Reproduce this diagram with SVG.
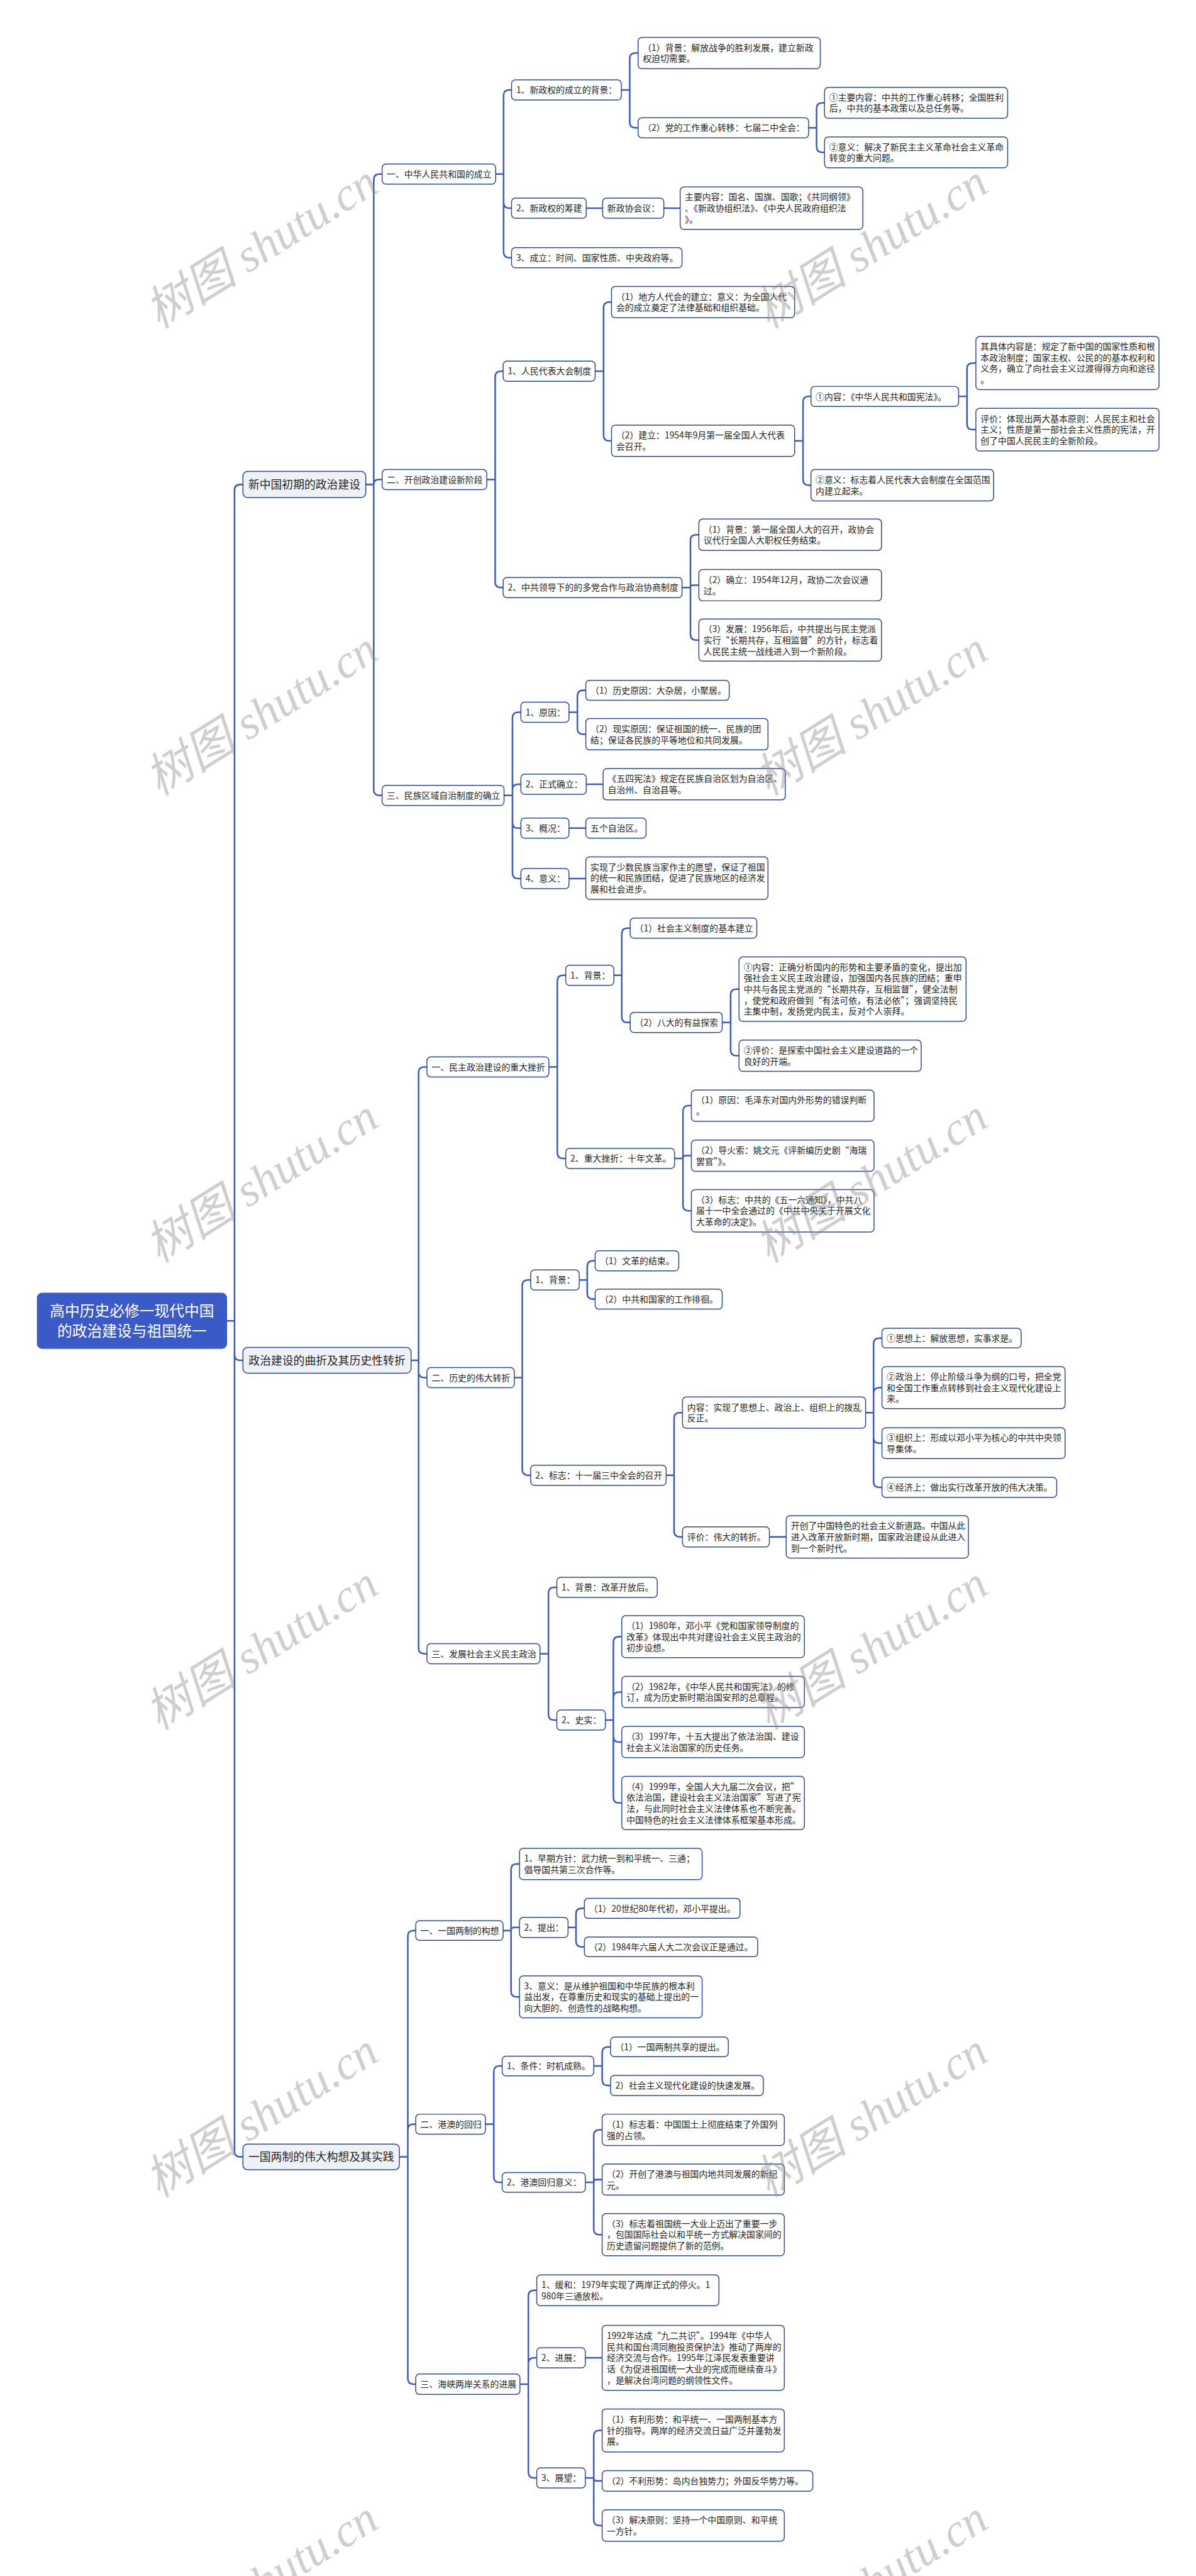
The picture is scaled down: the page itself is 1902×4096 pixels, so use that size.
<svg xmlns="http://www.w3.org/2000/svg" width="1902" height="4096" viewBox="0 0 1902 4096">
<style>
.b{fill:#fff;stroke:#2d4a9c;stroke-width:2}
.l1{fill:#eef1f6;stroke:#2d4a9c;stroke-width:2}
.rt{fill:#3a5bc7;stroke:#3a5bc7;stroke-width:2}
.t{font-family:"Noto Sans CJK SC","Noto Sans",sans-serif;font-size:18.7px;fill:#262626}
.t1{font-family:"Noto Sans CJK SC","Noto Sans",sans-serif;font-size:24px;fill:#262626;text-anchor:middle}
.t0{font-family:"Noto Sans CJK SC","Noto Sans",sans-serif;font-size:32px;fill:#fff;text-anchor:middle}
.c{fill:none;stroke:#3a5bc5;stroke-width:3.4}
.wm{font-family:"Liberation Serif","Noto Sans CJK SC",serif;font-style:italic;font-size:100px;fill:#8a8a8a;opacity:.42}
</style>
<rect width="1902" height="4096" fill="#fff"/>
<g transform="scale(0.7429)">
<g id="connectors" class="c">
<path d="M485,2827H502V1049Q502,1037 514,1037H520M485,2827H502V2899.5Q502,2911.5 514,2911.5H520M485,2827H502V4604.5Q502,4616.5 514,4616.5H520"/>
<path d="M783,1037H800V384.5Q800,372.5 812,372.5H818M783,1037H800Q800,1026.5 810.5,1026.5H818M783,1037H800V1690.5Q800,1702.5 812,1702.5H818"/>
<path d="M880,2911.5H896V2295.5Q896,2283.5 908,2283.5H914M880,2911.5H896V2936.5Q896,2948.5 908,2948.5H914M880,2911.5H896V3527.5Q896,3539.5 908,3539.5H914"/>
<path d="M855,4616.5H873V4144Q873,4132 885,4132H890M855,4616.5H873V4558.5Q873,4546.5 885,4546.5H890M855,4616.5H873V5091Q873,5103 885,5103H890"/>
<path d="M1061,372.5H1078V204.5Q1078,192.5 1090,192.5H1095M1061,372.5H1078V433.5Q1078,445.5 1090,445.5H1095M1061,372.5H1078V539.5Q1078,551.5 1090,551.5H1095"/>
<path d="M1330,192.5H1348V125.5Q1348,113.5 1360,113.5H1366M1330,192.5H1348V261.5Q1348,273.5 1360,273.5H1366"/>
<path d="M1731,273.5H1748V232Q1748,220 1760,220H1765M1731,273.5H1748V314Q1748,326 1760,326H1765"/>
<path d="M1255,445.5H1290M1421,445.5H1456"/>
<path d="M1042,1026.5H1060V806.5Q1060,794.5 1072,794.5H1077M1042,1026.5H1060V1245.5Q1060,1257.5 1072,1257.5H1077"/>
<path d="M1274,794.5H1292V658.5Q1292,646.5 1304,646.5H1309M1274,794.5H1292V931.5Q1292,943.5 1304,943.5H1309"/>
<path d="M1701,943.5H1719V860.5Q1719,848.5 1731,848.5H1736M1701,943.5H1719V1026.5Q1719,1038.5 1731,1038.5H1736"/>
<path d="M2052,848.5H2070V789Q2070,777 2082,777H2089M2052,848.5H2070V907.5Q2070,919.5 2082,919.5H2089"/>
<path d="M1460,1257.5H1478V1156.5Q1478,1144.5 1490,1144.5H1496M1460,1257.5H1478Q1478,1252.5 1483,1252.5H1496M1460,1257.5H1478V1358Q1478,1370 1490,1370H1496"/>
<path d="M1079,1702.5H1097V1536.5Q1097,1524.5 1109,1524.5H1115M1079,1702.5H1097V1690.5Q1097,1678.5 1109,1678.5H1115M1079,1702.5H1097V1760.5Q1097,1772.5 1109,1772.5H1115M1079,1702.5H1097V1868.5Q1097,1880.5 1109,1880.5H1115"/>
<path d="M1218,1524.5H1236V1489.5Q1236,1477.5 1248,1477.5H1254M1218,1524.5H1236V1559.5Q1236,1571.5 1248,1571.5H1254"/>
<path d="M1255,1678.5H1291M1218,1772.5H1254M1218,1880.5H1254"/>
<path d="M1175,2283.5H1193V2099.5Q1193,2087.5 1205,2087.5H1211M1175,2283.5H1193V2467.5Q1193,2479.5 1205,2479.5H1211"/>
<path d="M1314,2087.5H1331V1998.5Q1331,1986.5 1343,1986.5H1349M1314,2087.5H1331V2176.5Q1331,2188.5 1343,2188.5H1349"/>
<path d="M1546,2188.5H1564V2129Q1564,2117 1576,2117H1582M1546,2188.5H1564V2247.5Q1564,2259.5 1576,2259.5H1582"/>
<path d="M1444,2479.5H1462V2378.5Q1462,2366.5 1474,2366.5H1480M1444,2479.5H1462Q1462,2473.5 1468,2473.5H1480M1444,2479.5H1462V2579.5Q1462,2591.5 1474,2591.5H1480"/>
<path d="M1101,2948.5H1118V2751.5Q1118,2739.5 1130,2739.5H1136M1101,2948.5H1118V3145.5Q1118,3157.5 1130,3157.5H1136"/>
<path d="M1240,2739.5H1257V2710.5Q1257,2698.5 1269,2698.5H1274M1240,2739.5H1257V2768.5Q1257,2780.5 1269,2780.5H1274"/>
<path d="M1426,3157.5H1443V3035.5Q1443,3023.5 1455,3023.5H1461M1426,3157.5H1443V3277.5Q1443,3289.5 1455,3289.5H1461"/>
<path d="M1853,3023.5H1870V2876Q1870,2864 1882,2864H1888M1853,3023.5H1870V2982Q1870,2970 1882,2970H1888M1853,3023.5H1870V3077Q1870,3089 1882,3089H1888M1853,3023.5H1870V3171.5Q1870,3183.5 1882,3183.5H1888"/>
<path d="M1647,3289.5H1683"/>
<path d="M1156,3539.5H1174V3409.5Q1174,3397.5 1186,3397.5H1192M1156,3539.5H1174V3669.5Q1174,3681.5 1186,3681.5H1192"/>
<path d="M1296,3681.5H1313V3515Q1313,3503 1325,3503H1331M1296,3681.5H1313V3633.5Q1313,3621.5 1325,3621.5H1331M1296,3681.5H1313V3716.5Q1313,3728.5 1325,3728.5H1331M1296,3681.5H1313V3847Q1313,3859 1325,3859H1331"/>
<path d="M1077,4132H1094V4001.5Q1094,3989.5 1106,3989.5H1112M1077,4132H1094Q1094,4125.5 1100.5,4125.5H1112M1077,4132H1094V4262Q1094,4274 1106,4274H1112"/>
<path d="M1216,4125.5H1233V4096.5Q1233,4084.5 1245,4084.5H1251M1216,4125.5H1233V4155Q1233,4167 1245,4167H1251"/>
<path d="M1039,4546.5H1057V4434Q1057,4422 1069,4422H1075M1039,4546.5H1057V4659Q1057,4671 1069,4671H1075"/>
<path d="M1271,4422H1289V4393Q1289,4381 1301,4381H1307M1271,4422H1289V4451.5Q1289,4463.5 1301,4463.5H1307"/>
<path d="M1253,4671H1271V4570.5Q1271,4558.5 1283,4558.5H1289M1253,4671H1271Q1271,4665 1277,4665H1289M1253,4671H1271V4771Q1271,4783 1283,4783H1289"/>
<path d="M1113,5103H1131V4914Q1131,4902 1143,4902H1149M1113,5103H1131V5058.5Q1131,5046.5 1143,5046.5H1149M1113,5103H1131V5291.5Q1131,5303.5 1143,5303.5H1149"/>
<path d="M1253,5046.5H1289"/>
<path d="M1253,5303.5H1271V5214Q1271,5202 1283,5202H1289M1253,5303.5H1271Q1271,5310 1277.5,5310H1289M1253,5303.5H1271V5393.5Q1271,5405.5 1283,5405.5H1289"/>
</g>

<g id="root"><rect class="rt" x="80" y="2768" width="405" height="118" rx="10"/><text class="t0"><tspan x="282.5" y="2818">高中历史必修一现代中国</tspan><tspan x="282.5" y="2860">的政治建设与祖国统一</tspan></text></g>

<g id="l1a"><rect class="l1" x="520" y="1009" width="263" height="56" rx="10"/><text class="t1" x="651.5" y="1046">新中国初期的政治建设</text></g>
<g id="l1b"><rect class="l1" x="520" y="2884" width="360" height="55" rx="10"/><text class="t1" x="700" y="2920.5">政治建设的曲折及其历史性转折</text></g>
<g id="l1c"><rect class="l1" x="520" y="4589" width="335" height="55" rx="10"/><text class="t1" x="687.5" y="4625.5">一国两制的伟大构想及其实践</text></g>

<g id="a1"><rect class="b" x="818" y="351" width="243" height="43" rx="8"/><text class="t" x="828" y="379.5">一、中华人民共和国的成立</text></g>
<g id="a1a"><rect class="b" x="1095" y="171" width="235" height="43" rx="8"/><text class="t" x="1105" y="199.5">1、新政权的成立的背景：</text></g>
<g id="a1a1"><rect class="b" x="1366" y="80" width="390" height="67" rx="8"/><text class="t"><tspan x="1376" y="108.6">（1）背景：解放战争的胜利发展，建立新政</tspan><tspan x="1376" y="132.4">权迫切需要。</tspan></text></g>
<g id="a1a2"><rect class="b" x="1366" y="252" width="365" height="43" rx="8"/><text class="t" x="1376" y="280.5">（2）党的工作重心转移：七届二中全会：</text></g>
<g id="a1a2a"><rect class="b" x="1765" y="187" width="392" height="66" rx="8"/><text class="t"><tspan x="1775" y="215.1">①主要内容：中共的工作重心转移；全国胜利</tspan><tspan x="1775" y="238.9">后，中共的基本政策以及总任务等。</tspan></text></g>
<g id="a1a2b"><rect class="b" x="1765" y="293" width="392" height="66" rx="8"/><text class="t"><tspan x="1775" y="321.1">②意义：解决了新民主主义革命社会主义革命</tspan><tspan x="1775" y="344.9">转变的重大问题。</tspan></text></g>
<g id="a1b"><rect class="b" x="1095" y="424" width="160" height="43" rx="8"/><text class="t" x="1105" y="452.5">2、新政权的筹建</text></g>
<g id="a1b1"><rect class="b" x="1290" y="424" width="131" height="43" rx="8"/><text class="t" x="1300" y="452.5">新政协会议：</text></g>
<g id="a1b1a"><rect class="b" x="1456" y="400" width="391" height="91" rx="8"/><text class="t"><tspan x="1466" y="428.7">主要内容：国名、国旗、国歌；《共同纲领》</tspan><tspan x="1466" y="452.5">、《新政协组织法》、《中央人民政府组织法</tspan><tspan x="1466" y="476.3">》。</tspan></text></g>
<g id="a1c"><rect class="b" x="1095" y="530" width="365" height="43" rx="8"/><text class="t" x="1105" y="558.5">3、成立：时间、国家性质、中央政府等。</text></g>

<g id="a2"><rect class="b" x="818" y="1005" width="224" height="43" rx="8"/><text class="t" x="828" y="1033.5">二、开创政治建设新阶段</text></g>
<g id="a2a"><rect class="b" x="1077" y="773" width="197" height="43" rx="8"/><text class="t" x="1087" y="801.5">1、人民代表大会制度</text></g>
<g id="a2a1"><rect class="b" x="1309" y="613" width="392" height="67" rx="8"/><text class="t"><tspan x="1319" y="641.6">（1）地方人代会的建立：意义：为全国人代</tspan><tspan x="1319" y="665.4">会的成立奠定了法律基础和组织基础。</tspan></text></g>
<g id="a2a2"><rect class="b" x="1309" y="910" width="392" height="67" rx="8"/><text class="t"><tspan x="1319" y="938.6">（2）建立：1954年9月第一届全国人大代表</tspan><tspan x="1319" y="962.4">会召开。</tspan></text></g>
<g id="a2a2a"><rect class="b" x="1736" y="827" width="316" height="43" rx="8"/><text class="t" x="1746" y="855.5">①内容：《中华人民共和国宪法》。</text></g>
<g id="a2a2a1"><rect class="b" x="2089" y="720" width="392" height="114" rx="8"/><text class="t"><tspan x="2099" y="748.3">其具体内容是：规定了新中国的国家性质和根</tspan><tspan x="2099" y="772.1">本政治制度；国家主权、公民的的基本权利和</tspan><tspan x="2099" y="795.9">义务，确立了向社会主义过渡得得方向和途径</tspan><tspan x="2099" y="819.7">。</tspan></text></g>
<g id="a2a2a2"><rect class="b" x="2089" y="874" width="392" height="91" rx="8"/><text class="t"><tspan x="2099" y="902.7">评价：体现出两大基本原则：人民民主和社会</tspan><tspan x="2099" y="926.5">主义；性质是第一部社会主义性质的宪法，开</tspan><tspan x="2099" y="950.3">创了中国人民民主的全新阶段。</tspan></text></g>
<g id="a2a2b"><rect class="b" x="1736" y="1005" width="391" height="67" rx="8"/><text class="t"><tspan x="1746" y="1033.6">②意义：标志着人民代表大会制度在全国范围</tspan><tspan x="1746" y="1057.4">内建立起来。</tspan></text></g>
<g id="a2b"><rect class="b" x="1077" y="1236" width="383" height="43" rx="8"/><text class="t" x="1087" y="1264.5">2、中共领导下的的多党合作与政治协商制度</text></g>
<g id="a2b1"><rect class="b" x="1496" y="1111" width="391" height="67" rx="8"/><text class="t"><tspan x="1506" y="1139.6">（1）背景：第一届全国人大的召开，政协会</tspan><tspan x="1506" y="1163.4">议代行全国人大职权任务结束。</tspan></text></g>
<g id="a2b2"><rect class="b" x="1496" y="1219" width="391" height="67" rx="8"/><text class="t"><tspan x="1506" y="1247.6">（2）确立：1954年12月，政协二次会议通</tspan><tspan x="1506" y="1271.4">过。</tspan></text></g>
<g id="a2b3"><rect class="b" x="1496" y="1325" width="391" height="90" rx="8"/><text class="t"><tspan x="1506" y="1353.2">（3）发展：1956年后，中共提出与民主党派</tspan><tspan x="1506" y="1377">实行“长期共存，互相监督”的方针，标志着</tspan><tspan x="1506" y="1400.8">人民民主统一战线进入到一个新阶段。</tspan></text></g>

<g id="a3"><rect class="b" x="818" y="1681" width="261" height="43" rx="8"/><text class="t" x="828" y="1709.5">三、民族区域自治制度的确立</text></g>
<g id="a3a"><rect class="b" x="1115" y="1503" width="103" height="43" rx="8"/><text class="t" x="1125" y="1531.5">1、原因：</text></g>
<g id="a3a1"><rect class="b" x="1254" y="1456" width="307" height="43" rx="8"/><text class="t" x="1264" y="1484.5">（1）历史原因：大杂居，小聚居。</text></g>
<g id="a3a2"><rect class="b" x="1254" y="1538" width="390" height="67" rx="8"/><text class="t"><tspan x="1264" y="1566.6">（2）现实原因：保证祖国的统一、民族的团</tspan><tspan x="1264" y="1590.4">结；保证各民族的平等地位和共同发展。</tspan></text></g>
<g id="a3b"><rect class="b" x="1115" y="1657" width="140" height="43" rx="8"/><text class="t" x="1125" y="1685.5">2、正式确立：</text></g>
<g id="a3b1"><rect class="b" x="1291" y="1645" width="390" height="67" rx="8"/><text class="t"><tspan x="1301" y="1673.6">《五四宪法》规定在民族自治区划为自治区、</tspan><tspan x="1301" y="1697.4">自治州、自治县等。</tspan></text></g>
<g id="a3c"><rect class="b" x="1115" y="1751" width="103" height="43" rx="8"/><text class="t" x="1125" y="1779.5">3、概况：</text></g>
<g id="a3c1"><rect class="b" x="1254" y="1751" width="129" height="43" rx="8"/><text class="t" x="1264" y="1779.5">五个自治区。</text></g>
<g id="a3d"><rect class="b" x="1115" y="1859" width="103" height="43" rx="8"/><text class="t" x="1125" y="1887.5">4、意义：</text></g>
<g id="a3d1"><rect class="b" x="1254" y="1834" width="390" height="91" rx="8"/><text class="t"><tspan x="1264" y="1862.7">实现了少数民族当家作主的愿望，保证了祖国</tspan><tspan x="1264" y="1886.5">的统一和民族团结，促进了民族地区的经济发</tspan><tspan x="1264" y="1910.3">展和社会进步。</tspan></text></g>

<g id="b1"><rect class="b" x="914" y="2262" width="261" height="43" rx="8"/><text class="t" x="924" y="2290.5">一、民主政治建设的重大挫折</text></g>
<g id="b1a"><rect class="b" x="1211" y="2066" width="103" height="43" rx="8"/><text class="t" x="1221" y="2094.5">1、背景：</text></g>
<g id="b1a1"><rect class="b" x="1349" y="1965" width="271" height="43" rx="8"/><text class="t" x="1359" y="1993.5">（1）社会主义制度的基本建立</text></g>
<g id="b1a2"><rect class="b" x="1349" y="2167" width="197" height="43" rx="8"/><text class="t" x="1359" y="2195.5">（2）八大的有益探索</text></g>
<g id="b1a2a"><rect class="b" x="1582" y="2048" width="486" height="138" rx="8"/><text class="t"><tspan x="1592" y="2076.4">①内容：正确分析国内的形势和主要矛盾的变化，提出加</tspan><tspan x="1592" y="2100.2">强社会主义民主政治建设，加强国内各民族的团结；重申</tspan><tspan x="1592" y="2124">中共与各民主党派的“长期共存，互相监督”，健全法制</tspan><tspan x="1592" y="2147.8">，使党和政府做到“有法可依，有法必依”；强调坚持民</tspan><tspan x="1592" y="2171.6">主集中制，发扬党内民主，反对个人崇拜。</tspan></text></g>
<g id="b1a2b"><rect class="b" x="1582" y="2226" width="390" height="67" rx="8"/><text class="t"><tspan x="1592" y="2254.6">②评价：是探索中国社会主义建设道路的一个</tspan><tspan x="1592" y="2278.4">良好的开端。</tspan></text></g>
<g id="b1b"><rect class="b" x="1211" y="2458" width="233" height="43" rx="8"/><text class="t" x="1221" y="2486.5">2、重大挫折：十年文革。</text></g>
<g id="b1b1"><rect class="b" x="1480" y="2333" width="391" height="67" rx="8"/><text class="t"><tspan x="1490" y="2361.6">（1）原因：毛泽东对国内外形势的错误判断</tspan><tspan x="1490" y="2385.4">。</tspan></text></g>
<g id="b1b2"><rect class="b" x="1480" y="2440" width="391" height="67" rx="8"/><text class="t"><tspan x="1490" y="2468.6">（2）导火索：姚文元《评新编历史剧“海瑞</tspan><tspan x="1490" y="2492.4">罢官”》。</tspan></text></g>
<g id="b1b3"><rect class="b" x="1480" y="2546" width="391" height="91" rx="8"/><text class="t"><tspan x="1490" y="2574.7">（3）标志：中共的《五一六通知》，中共八</tspan><tspan x="1490" y="2598.5">届十一中全会通过的《中共中央关于开展文化</tspan><tspan x="1490" y="2622.3">大革命的决定》。</tspan></text></g>

<g id="b2"><rect class="b" x="914" y="2927" width="187" height="43" rx="8"/><text class="t" x="924" y="2955.5">二、历史的伟大转折</text></g>
<g id="b2a"><rect class="b" x="1136" y="2718" width="104" height="43" rx="8"/><text class="t" x="1146" y="2746.5">1、背景：</text></g>
<g id="b2a1"><rect class="b" x="1274" y="2677" width="179" height="43" rx="8"/><text class="t" x="1284" y="2705.5">（1）文革的结束。</text></g>
<g id="b2a2"><rect class="b" x="1274" y="2759" width="272" height="43" rx="8"/><text class="t" x="1284" y="2787.5">（2）中共和国家的工作徘徊。</text></g>
<g id="b2b"><rect class="b" x="1136" y="3136" width="290" height="43" rx="8"/><text class="t" x="1146" y="3164.5">2、标志：十一届三中全会的召开</text></g>
<g id="b2b1"><rect class="b" x="1461" y="2990" width="392" height="67" rx="8"/><text class="t"><tspan x="1471" y="3018.6">内容：实现了思想上、政治上、组织上的拨乱</tspan><tspan x="1471" y="3042.4">反正。</tspan></text></g>
<g id="b2b1a"><rect class="b" x="1888" y="2843" width="298" height="42" rx="8"/><text class="t" x="1898" y="2871">①思想上：解放思想，实事求是。</text></g>
<g id="b2b1b"><rect class="b" x="1888" y="2925" width="392" height="90" rx="8"/><text class="t"><tspan x="1898" y="2953.2">②政治上：停止阶级斗争为纲的口号，把全党</tspan><tspan x="1898" y="2977">和全国工作重点转移到社会主义现代化建设上</tspan><tspan x="1898" y="3000.8">来。</tspan></text></g>
<g id="b2b1c"><rect class="b" x="1888" y="3056" width="392" height="66" rx="8"/><text class="t"><tspan x="1898" y="3084.1">③组织上：形成以邓小平为核心的中共中央领</tspan><tspan x="1898" y="3107.9">导集体。</tspan></text></g>
<g id="b2b1d"><rect class="b" x="1888" y="3162" width="374" height="43" rx="8"/><text class="t" x="1898" y="3190.5">④经济上：做出实行改革开放的伟大决策。</text></g>
<g id="b2b2"><rect class="b" x="1461" y="3268" width="186" height="43" rx="8"/><text class="t" x="1471" y="3296.5">评价：伟大的转折。</text></g>
<g id="b2b2a"><rect class="b" x="1683" y="3244" width="390" height="91" rx="8"/><text class="t"><tspan x="1693" y="3272.7">开创了中国特色的社会主义新道路。中国从此</tspan><tspan x="1693" y="3296.5">进入改革开放新时期，国家政治建设从此进入</tspan><tspan x="1693" y="3320.3">到一个新时代。</tspan></text></g>

<g id="b3"><rect class="b" x="914" y="3518" width="242" height="43" rx="8"/><text class="t" x="924" y="3546.5">三、发展社会主义民主政治</text></g>
<g id="b3a"><rect class="b" x="1192" y="3376" width="215" height="43" rx="8"/><text class="t" x="1202" y="3404.5">1、背景：改革开放后。</text></g>
<g id="b3b"><rect class="b" x="1192" y="3660" width="104" height="43" rx="8"/><text class="t" x="1202" y="3688.5">2、史实：</text></g>
<g id="b3b1"><rect class="b" x="1331" y="3458" width="391" height="90" rx="8"/><text class="t"><tspan x="1341" y="3486.2">（1）1980年，邓小平《党和国家领导制度的</tspan><tspan x="1341" y="3510">改革》体现出中共对建设社会主义民主政治的</tspan><tspan x="1341" y="3533.8">初步设想。</tspan></text></g>
<g id="b3b2"><rect class="b" x="1331" y="3588" width="391" height="67" rx="8"/><text class="t"><tspan x="1341" y="3616.6">（2）1982年，《中华人民共和国宪法》的修</tspan><tspan x="1341" y="3640.4">订，成为历史新时期治国安邦的总章程。</tspan></text></g>
<g id="b3b3"><rect class="b" x="1331" y="3695" width="391" height="67" rx="8"/><text class="t"><tspan x="1341" y="3723.6">（3）1997年，十五大提出了依法治国、建设</tspan><tspan x="1341" y="3747.4">社会主义法治国家的历史任务。</tspan></text></g>
<g id="b3b4"><rect class="b" x="1331" y="3802" width="391" height="114" rx="8"/><text class="t"><tspan x="1341" y="3830.3">（4）1999年，全国人大九届二次会议，把”</tspan><tspan x="1341" y="3854.1">依法治国，建设社会主义法治国家”写进了宪</tspan><tspan x="1341" y="3877.9">法，与此同时社会主义法律体系也不断完善。</tspan><tspan x="1341" y="3901.7">中国特色的社会主义法律体系框架基本形成。</tspan></text></g>

<g id="c1"><rect class="b" x="890" y="4111" width="187" height="42" rx="8"/><text class="t" x="900" y="4139">一、一国两制的构想</text></g>
<g id="c1a"><rect class="b" x="1112" y="3956" width="391" height="67" rx="8"/><text class="t"><tspan x="1122" y="3984.6">1、早期方针：武力统一到和平统一、三通；</tspan><tspan x="1122" y="4008.4">倡导国共第三次合作等。</tspan></text></g>
<g id="c1b"><rect class="b" x="1112" y="4104" width="104" height="43" rx="8"/><text class="t" x="1122" y="4132.5">2、提出：</text></g>
<g id="c1b1"><rect class="b" x="1251" y="4063" width="333" height="43" rx="8"/><text class="t" x="1261" y="4091.5">（1）20世纪80年代初，邓小平提出。</text></g>
<g id="c1b2"><rect class="b" x="1251" y="4146" width="371" height="42" rx="8"/><text class="t" x="1261" y="4174">（2）1984年六届人大二次会议正是通过。</text></g>
<g id="c1c"><rect class="b" x="1112" y="4229" width="391" height="90" rx="8"/><text class="t"><tspan x="1122" y="4257.2">3、意义：是从维护祖国和中华民族的根本利</tspan><tspan x="1122" y="4281">益出发，在尊重历史和现实的基础上提出的一</tspan><tspan x="1122" y="4304.8">向大胆的、创造性的战略构想。</tspan></text></g>

<g id="c2"><rect class="b" x="890" y="4525" width="149" height="43" rx="8"/><text class="t" x="900" y="4553.5">二、港澳的回归</text></g>
<g id="c2a"><rect class="b" x="1075" y="4401" width="196" height="42" rx="8"/><text class="t" x="1085" y="4429">1、条件：时机成熟。</text></g>
<g id="c2a1"><rect class="b" x="1307" y="4360" width="252" height="42" rx="8"/><text class="t" x="1317" y="4388">（1）一国两制共享的提出。</text></g>
<g id="c2a2"><rect class="b" x="1307" y="4442" width="327" height="43" rx="8"/><text class="t" x="1317" y="4470.5">2）社会主义现代化建设的快速发展。</text></g>
<g id="c2b"><rect class="b" x="1075" y="4650" width="178" height="42" rx="8"/><text class="t" x="1085" y="4678">2、港澳回归意义：</text></g>
<g id="c2b1"><rect class="b" x="1289" y="4525" width="390" height="67" rx="8"/><text class="t"><tspan x="1299" y="4553.6">（1）标志着：中国国土上彻底结束了外国列</tspan><tspan x="1299" y="4577.4">强的占领。</tspan></text></g>
<g id="c2b2"><rect class="b" x="1289" y="4632" width="390" height="66" rx="8"/><text class="t"><tspan x="1299" y="4660.1">（2）开创了港澳与祖国内地共同发展的新纪</tspan><tspan x="1299" y="4683.9">元。</tspan></text></g>
<g id="c2b3"><rect class="b" x="1289" y="4738" width="390" height="90" rx="8"/><text class="t"><tspan x="1299" y="4766.2">（3）标志着祖国统一大业上迈出了重要一步</tspan><tspan x="1299" y="4790">，包国国际社会以和平统一方式解决国家间的</tspan><tspan x="1299" y="4813.8">历史遗留问题提供了新的范例。</tspan></text></g>

<g id="c3"><rect class="b" x="890" y="5081" width="223" height="44" rx="8"/><text class="t" x="900" y="5110">三、海峡两岸关系的进展</text></g>
<g id="c3a"><rect class="b" x="1149" y="4869" width="390" height="66" rx="8"/><text class="t"><tspan x="1159" y="4897.1">1、缓和：1979年实现了两岸正式的停火。1</tspan><tspan x="1159" y="4920.9">980年三通放松。</tspan></text></g>
<g id="c3b"><rect class="b" x="1149" y="5025" width="104" height="43" rx="8"/><text class="t" x="1159" y="5053.5">2、进展：</text></g>
<g id="c3b1"><rect class="b" x="1289" y="4977" width="390" height="139" rx="8"/><text class="t"><tspan x="1299" y="5005.9">1992年达成“九二共识”。1994年《中华人</tspan><tspan x="1299" y="5029.7">民共和国台湾同胞投资保护法》推动了两岸的</tspan><tspan x="1299" y="5053.5">经济交流与合作。1995年江泽民发表重要讲</tspan><tspan x="1299" y="5077.3">话《为促进祖国统一大业的完成而继续奋斗》</tspan><tspan x="1299" y="5101.1">，是解决台湾问题的纲领性文件。</tspan></text></g>
<g id="c3c"><rect class="b" x="1149" y="5282" width="104" height="43" rx="8"/><text class="t" x="1159" y="5310.5">3、展望：</text></g>
<g id="c3c1"><rect class="b" x="1289" y="5156" width="390" height="92" rx="8"/><text class="t"><tspan x="1299" y="5185.2">（1）有利形势：和平统一、一国两制基本方</tspan><tspan x="1299" y="5209">针的指导。两岸的经济交流日益广泛并蓬勃发</tspan><tspan x="1299" y="5232.8">展。</tspan></text></g>
<g id="c3c2"><rect class="b" x="1289" y="5288" width="451" height="44" rx="8"/><text class="t" x="1299" y="5317">（2）不利形势：岛内台独势力；外国反华势力等。</text></g>
<g id="c3c3"><rect class="b" x="1289" y="5372" width="390" height="67" rx="8"/><text class="t"><tspan x="1299" y="5400.6">（3）解决原则：坚持一个中国原则、和平统</tspan><tspan x="1299" y="5424.4">一方针。</tspan></text></g>

<g id="watermarks" class="wm">
<text x="340" y="705" transform="rotate(-32 340 705)">树图 shutu.cn</text>
<text x="1645" y="705" transform="rotate(-32 1645 705)">树图 shutu.cn</text>
<text x="340" y="1705" transform="rotate(-32 340 1705)">树图 shutu.cn</text>
<text x="1645" y="1705" transform="rotate(-32 1645 1705)">树图 shutu.cn</text>
<text x="340" y="2705" transform="rotate(-32 340 2705)">树图 shutu.cn</text>
<text x="1645" y="2705" transform="rotate(-32 1645 2705)">树图 shutu.cn</text>
<text x="340" y="3705" transform="rotate(-32 340 3705)">树图 shutu.cn</text>
<text x="1645" y="3705" transform="rotate(-32 1645 3705)">树图 shutu.cn</text>
<text x="340" y="4705" transform="rotate(-32 340 4705)">树图 shutu.cn</text>
<text x="1645" y="4705" transform="rotate(-32 1645 4705)">树图 shutu.cn</text>
<text x="340" y="5705" transform="rotate(-32 340 5705)">树图 shutu.cn</text>
<text x="1645" y="5705" transform="rotate(-32 1645 5705)">树图 shutu.cn</text>
</g>
</g>
</svg>
